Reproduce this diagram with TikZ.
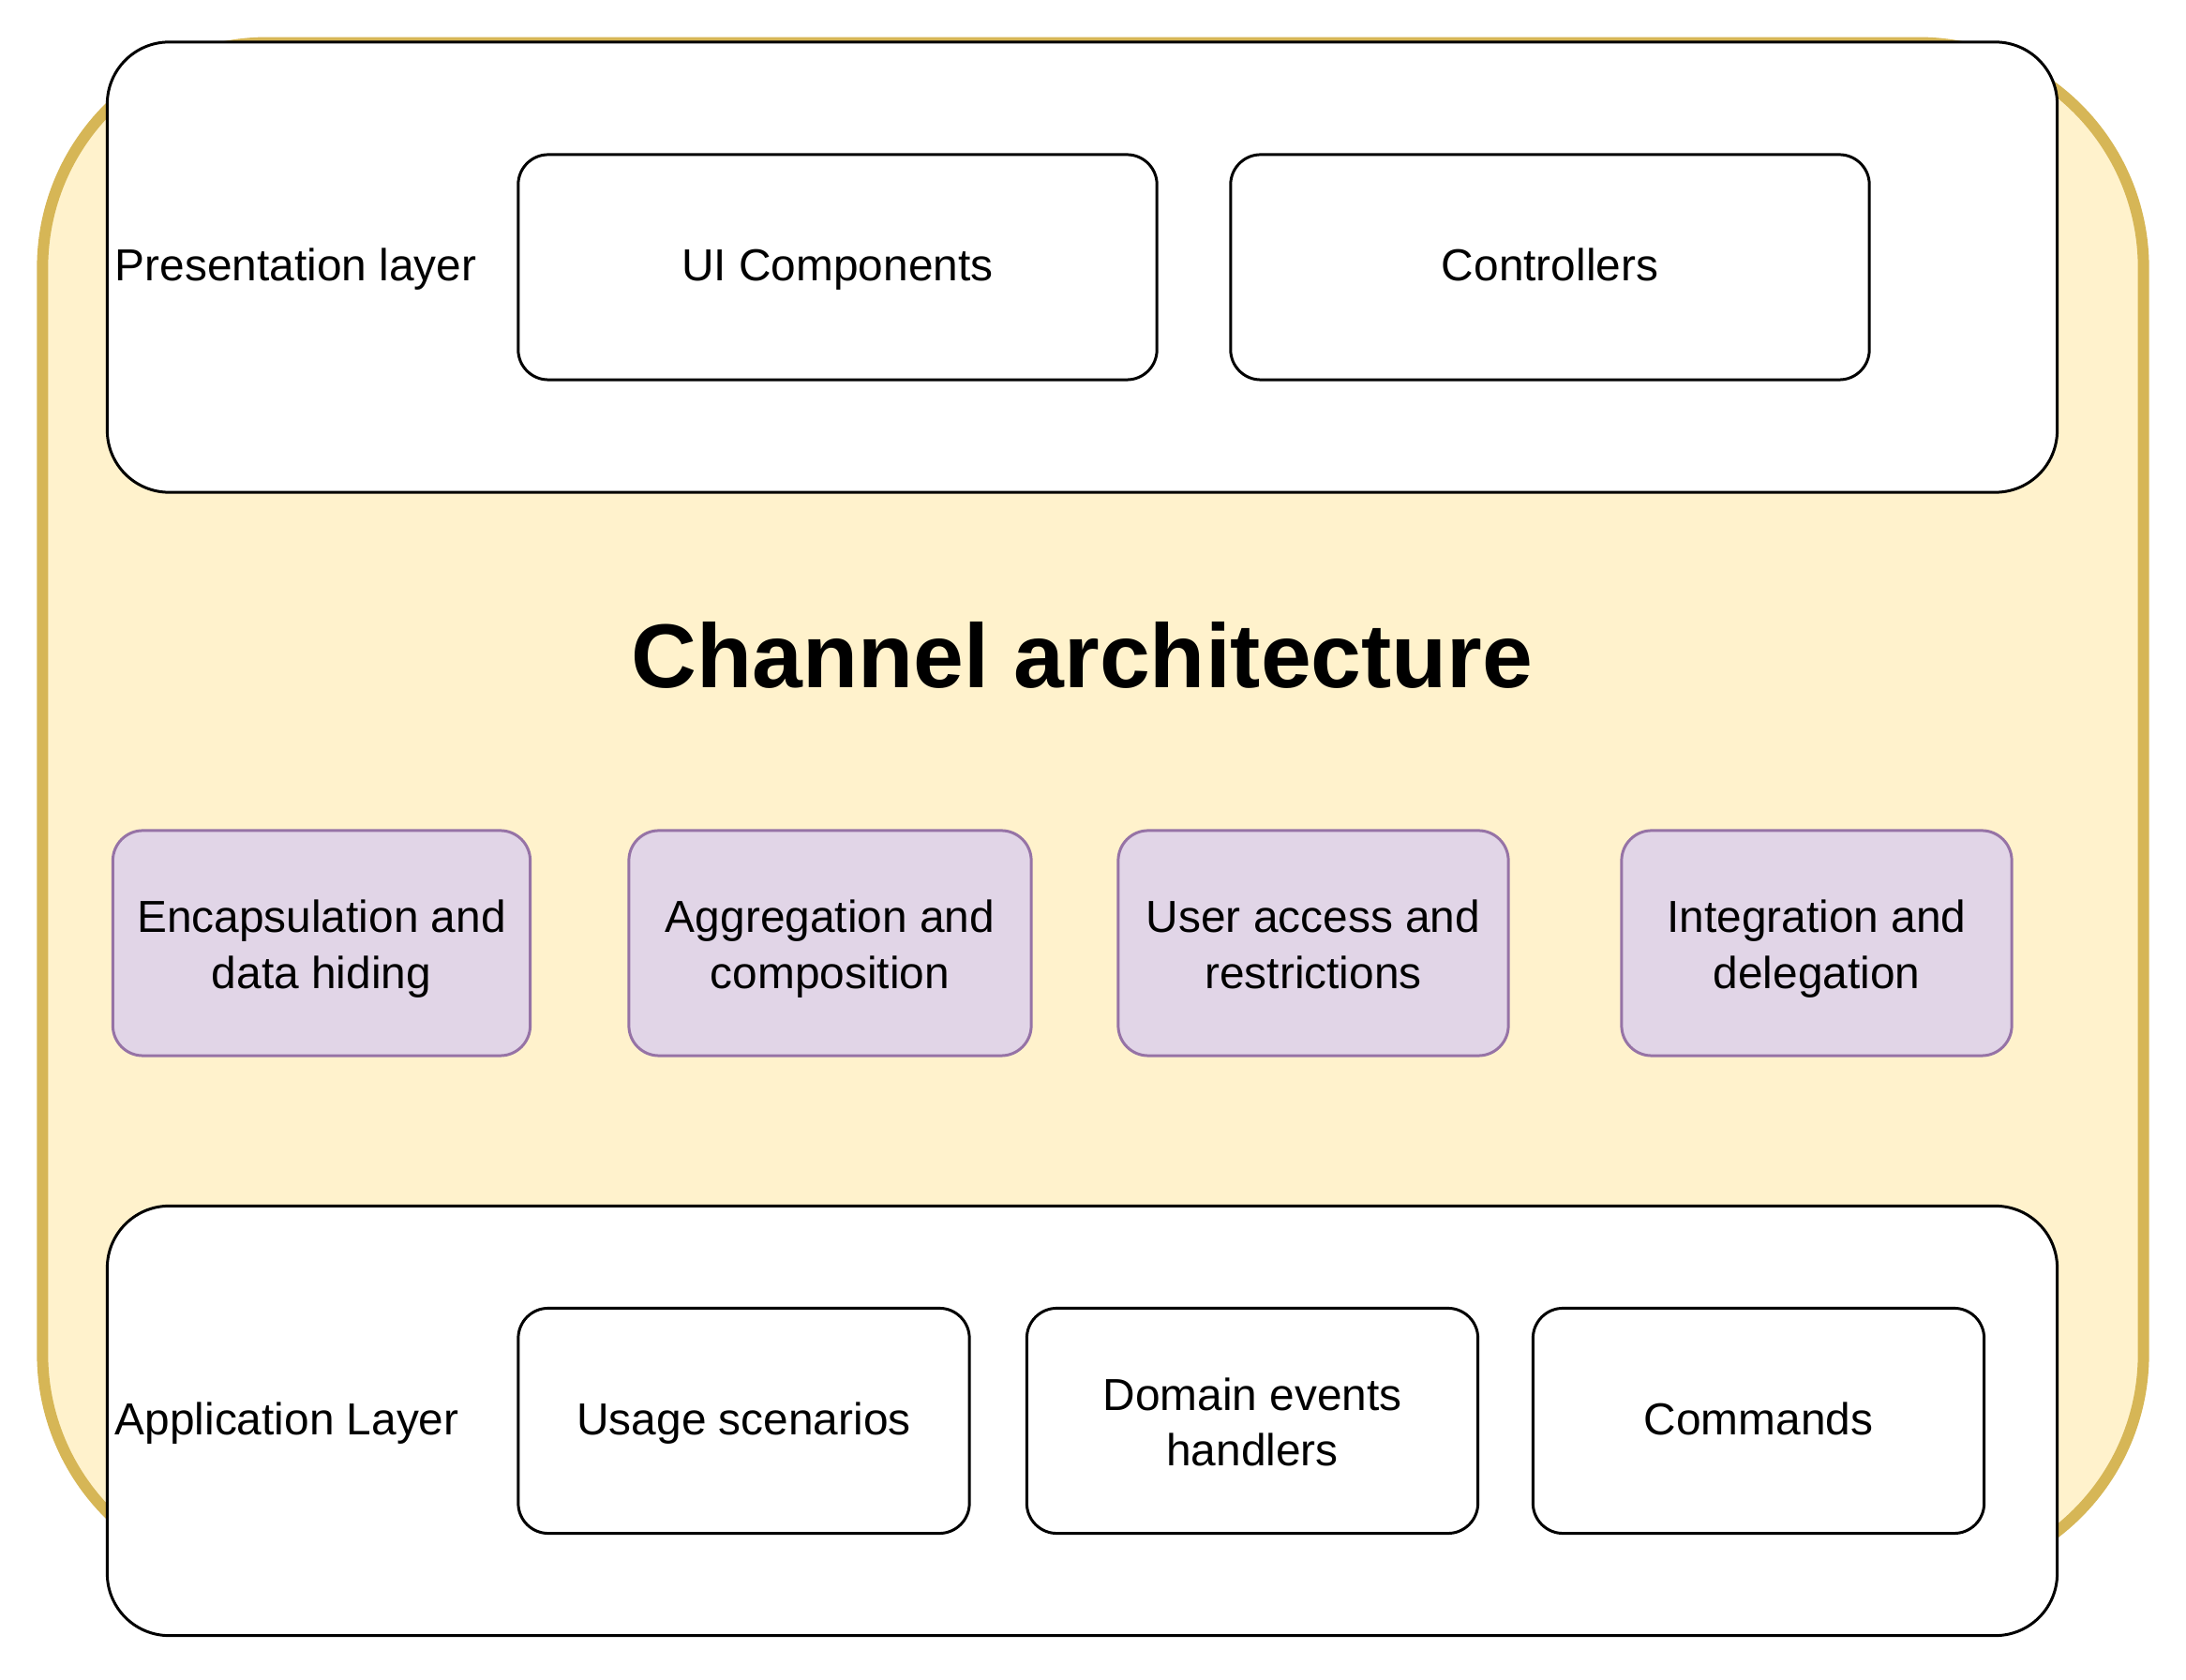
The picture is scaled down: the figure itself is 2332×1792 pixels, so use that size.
\documentclass[tikz,border=0pt]{standalone}
\usepackage{fontspec}
\setmainfont{Liberation Sans}
\definecolor{chanfill}{HTML}{FFF2CC}
\definecolor{chanline}{HTML}{D6B656}
\definecolor{concfill}{HTML}{E1D5E7}
\definecolor{concline}{HTML}{9673A6}
\newcommand\linestrut{\rule[-0.25\baselineskip]{0pt}{\baselineskip}}

\begin{document}
\begin{tikzpicture}[x=0.01cm, y=-0.01cm,
        every node/.style={font=\fontsize{13.6}{16.9}\selectfont, align=center, inner sep=0pt,
            execute at begin node=\linestrut, execute at end node=\linestrut},
        twoline/.style={execute at end node={\rule{0pt}{\dimexpr1.75\baselineskip+2pt\relax}}},
        channel/.style={draw=chanline, fill=chanfill, line width=3.4pt, rounded corners=2.4cm,
            minimum width=22.4cm, minimum height=16.38cm},
        layer/.style={draw=black, fill=white, line width=0.85pt, rounded corners=0.66cm,
            minimum width=20.79cm},
        part/.style={draw=black, fill=white, line width=0.85pt, rounded corners=0.32cm,
            minimum height=2.4cm},
        concern/.style={draw=concline, fill=concfill, line width=0.85pt, rounded corners=0.32cm,
            minimum height=2.4cm, minimum width=4.16cm, twoline},
        layerlabel/.style={anchor=west}]

    \useasboundingbox (0,0) rectangle (2332,1792);

    % background box
    \node[channel] (chan) at (1166,865) {};

    % layers
    \node[layer, minimum height=4.8cm] (pres) at (1154.5,285) {};
    \node[layer, minimum height=4.58cm] (app) at (1154.5,1515.5) {};

    \node[layerlabel] (preslabel) at (122,285) {Presentation layer};
    \node[layerlabel] (applabel) at (122,1515.5) {Application Layer};

    % presentation layer parts
    \node[part, minimum width=6.81cm] (ui) at (893.5,285) {UI Components};
    \node[part, minimum width=6.81cm] (ctrl) at (1653.5,285) {Controllers};

    % application layer parts
    \node[part, minimum width=4.81cm] (usage) at (793.5,1515.5) {Usage scenarios};
    \node[part, minimum width=4.81cm, twoline] (events) at (1336,1515.5) {Domain events\\handlers};
    \node[part, minimum width=4.81cm] (cmds) at (1876,1515.5) {Commands};

    % title
    \node[font=\fontsize{27.5}{33}\selectfont\bfseries] (title) at (1154.5,704) {Channel architecture};

    % concerns
    \node[concern, minimum width=4.45cm] (encap) at (343,1006) {Encapsulation and\\data hiding};
    \node[concern, minimum width=4.29cm] (aggr) at (885.5,1006) {Aggregation and\\composition};
    \node[concern] (access) at (1401,1006) {User access and\\restrictions};
    \node[concern] (integ) at (1938,1006) {Integration and\\delegation};
\end{tikzpicture}
\end{document}
